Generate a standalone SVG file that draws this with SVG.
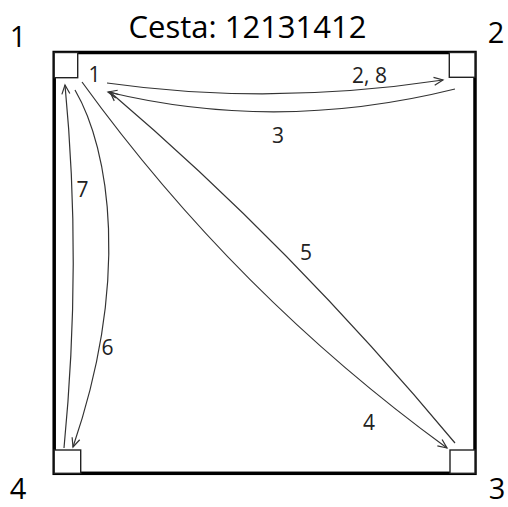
<svg xmlns="http://www.w3.org/2000/svg" width="508" height="507" viewBox="0 0 508 507">
<style>
.big{font-family:"Open Sans","Noto Sans",sans-serif;font-size:29px;fill:#000}
.title{font-family:"Open Sans","Noto Sans",sans-serif;font-size:31px;fill:#000}
.lbl{font-family:"Open Sans","Noto Sans",sans-serif;font-size:21px;fill:#222}
.box{fill:none;stroke:#000;stroke-width:3.5}
.corner{fill:#fff;stroke:#222;stroke-width:1.4}
.edge{fill:none;stroke:#333;stroke-width:1.2}
</style>
<defs>
<marker id="ah" markerUnits="userSpaceOnUse" markerWidth="12" markerHeight="12" refX="9" refY="5" orient="auto" overflow="visible">
<path d="M0,1 L9,5 L0,9" fill="none" stroke="#333" stroke-width="1.2"/>
</marker>
</defs>
<rect width="508" height="507" fill="#fff"/>
<text class="title" x="247.5" y="38" text-anchor="middle">Cesta: 12131412</text>
<rect class="box" x="54.2" y="52.5" width="420.8" height="420.8"/>
<g id="n1">
<rect class="corner" x="54.2" y="52.5" width="23.5" height="25.2"/>
<text class="big" x="18" y="47" text-anchor="middle">1</text>
</g>
<g id="n2">
<rect class="corner" x="449.3" y="52.5" width="25.7" height="24.8"/>
<text class="big" x="496" y="43" text-anchor="middle">2</text>
</g>
<g id="n3">
<rect class="corner" x="450" y="450" width="25" height="23.3"/>
<text class="big" x="497" y="499" text-anchor="middle">3</text>
</g>
<g id="n4">
<rect class="corner" x="54.2" y="450" width="26.5" height="23.3"/>
<text class="big" x="18" y="499" text-anchor="middle">4</text>
</g>
<g id="connectors">
<path class="edge" d="M107,83 Q270,106 443,80" marker-end="url(#ah)"/>
<path class="edge" d="M455,89 Q278,133 108,92" marker-end="url(#ah)"/>
<path class="edge" d="M82,82 Q235.5,294 447,448" marker-end="url(#ah)"/>
<path class="edge" d="M455,443 Q290,245 110,92" marker-end="url(#ah)"/>
<path class="edge" d="M75,90 C110,150 130,280 73,447" marker-end="url(#ah)"/>
<path class="edge" d="M64,448 Q82,262 65,85" marker-end="url(#ah)"/>
</g>
<g id="labels">
<text class="lbl" x="94.5" y="82" text-anchor="middle">1</text>
<text class="lbl" x="352" y="83">2, 8</text>
<text class="lbl" x="278" y="143" text-anchor="middle">3</text>
<text class="lbl" x="369" y="430" text-anchor="middle">4</text>
<text class="lbl" x="306" y="260" text-anchor="middle">5</text>
<text class="lbl" x="107.5" y="355" text-anchor="middle">6</text>
<text class="lbl" x="82.5" y="197" text-anchor="middle">7</text>
</g>
</svg>
